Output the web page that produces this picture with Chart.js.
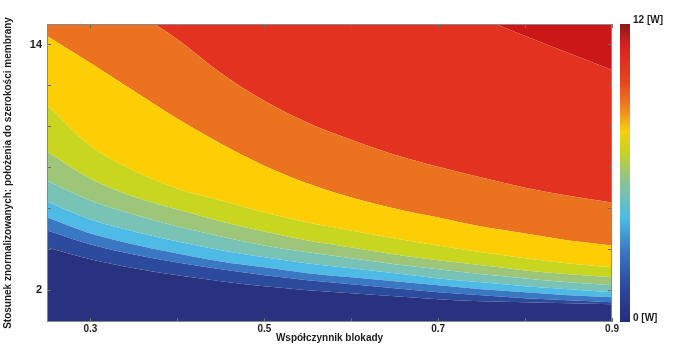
<!DOCTYPE html>
<html>
<head>
<meta charset="utf-8">
<script src="https://cdn.jsdelivr.net/npm/chart.js@4.4.0/dist/chart.umd.min.js"></script>
<style>
  html, body { margin: 0; padding: 0; background: #fff; }
  #wrap { position: relative; width: 675px; height: 351px; overflow: hidden; }
  #plot { position: absolute; left: 0; top: 0; }
  #bar { position: absolute; left: 610px; top: 0; }
</style>
</head>
<body>
<div id="wrap">
  <canvas id="plot" width="620" height="351"></canvas>
  <canvas id="bar" width="65" height="351"></canvas>
</div>
<script>
// x positions (Współczynnik blokady) where the contour edges were read
const xGrid = [0.25, 0.3, 0.35, 0.4, 0.45, 0.5, 0.55, 0.6, 0.65, 0.7, 0.75, 0.8, 0.85, 0.9];

// upper edge of each coloured band (y value at every xGrid point)
const edgeNavy    = [4.09, 3.51, 3.07, 2.73, 2.44, 2.19, 2.00, 1.85, 1.71, 1.56, 1.46, 1.42, 1.37, 1.32];
const edgeBlue    = [4.92, 4.24, 3.75, 3.36, 3.02, 2.73, 2.49, 2.29, 2.10, 1.90, 1.76, 1.61, 1.51, 1.42];
const edgeMidBlue = [5.55, 4.77, 4.24, 3.80, 3.41, 3.12, 2.83, 2.63, 2.44, 2.24, 2.05, 1.90, 1.76, 1.66];
const edgeCyan    = [6.33, 5.45, 4.87, 4.38, 3.95, 3.61, 3.31, 3.07, 2.83, 2.58, 2.39, 2.19, 2.05, 1.90];
const edgeTeal    = [7.35, 6.38, 5.70, 5.11, 4.63, 4.19, 3.85, 3.56, 3.27, 3.02, 2.78, 2.58, 2.39, 2.24];
const edgeGreen   = [8.76, 7.45, 6.57, 5.94, 5.36, 4.87, 4.43, 4.09, 3.75, 3.46, 3.22, 2.97, 2.78, 2.63];
const edgeLime    = [11.05, 9.06, 7.84, 6.96, 6.38, 5.80, 5.31, 4.92, 4.53, 4.19, 3.85, 3.56, 3.31, 3.12];
const edgeYellow  = [14.41, 13.09, 11.73, 10.37, 9.15, 8.08, 7.21, 6.53, 5.99, 5.55, 5.11, 4.77, 4.43, 4.19];
const edgeOrange  = [18.55, 17.09, 15.63, 14.26, 12.61, 11.25, 10.18, 9.35, 8.62, 8.03, 7.50, 7.01, 6.62, 6.28];
const edgeRed     = [27.0, 25.5, 24.0, 22.7, 21.4, 20.2, 19.1, 18.1, 17.1, 16.1, 15.28, 14.41, 13.58, 12.75];

const xTicks = [0.3, 0.4, 0.5, 0.6, 0.7, 0.8, 0.9];
const xLabels = [0.3, 0.5, 0.7, 0.9];
const yTicks = [2, 4, 6, 8, 10, 12, 14];
const yLabels = [2, 14];
const barTicks = [0, 12];

const bands = [
  {edge: edgeNavy,    color: '#29327f', fill: 'start'},
  {edge: edgeBlue,    color: '#2c4b9d', fill: '-1'},
  {edge: edgeMidBlue, color: '#3b78c3', fill: '-1'},
  {edge: edgeCyan,    color: '#4dbbe6', fill: '-1'},
  {edge: edgeTeal,    color: '#78c3b6', fill: '-1'},
  {edge: edgeGreen,   color: '#9ec679', fill: '-1'},
  {edge: edgeLime,    color: '#c9d61f', fill: '-1'},
  {edge: edgeYellow,  color: '#fece05', fill: '-1'},
  {edge: edgeOrange,  color: '#eb721f', fill: '-1'},
  {edge: edgeRed,     color: '#e3321f', fill: '-1'},
  {edge: edgeRed,     color: '#cb1717', fill: 'end'}
];

Chart.defaults.font.family = '"Liberation Sans", Arial, sans-serif';
Chart.defaults.font.weight = 'bold';
Chart.defaults.font.size = 10;
Chart.defaults.color = '#1d1d1d';

// box round the plot and small inward ticks, matlab style
const frame = {
  id: 'frame',
  afterDraw(chart) {
    const {ctx, chartArea: a, scales} = chart;
    ctx.save();
    ctx.strokeStyle = '#6b6b6b';
    ctx.lineWidth = 1;
    ctx.beginPath();
    scales.x.ticks.forEach(t => {
      const px = Math.round(scales.x.getPixelForValue(t.value)) + 0.5;
      ctx.moveTo(px, a.bottom); ctx.lineTo(px, a.bottom - 4);
      ctx.moveTo(px, a.top); ctx.lineTo(px, a.top + 4);
    });
    scales.y.ticks.forEach(t => {
      const py = Math.round(scales.y.getPixelForValue(t.value)) + 0.5;
      ctx.moveTo(a.left, py); ctx.lineTo(a.left + 4, py);
      ctx.moveTo(a.right, py); ctx.lineTo(a.right - 4, py);
    });
    ctx.stroke();
    ctx.strokeStyle = '#8a8a8a';
    ctx.strokeRect(a.left + 0.5, a.top + 0.5, a.right - a.left - 1, a.bottom - a.top - 1);
    ctx.restore();
  }
};

new Chart(document.getElementById('plot'), {
  type: 'line',
  data: {
    datasets: bands.map((b, i) => ({
      label: 'band' + i,
      data: xGrid.map((x, j) => ({x: x, y: b.edge[j]})),
      backgroundColor: b.color,
      borderColor: b.color,
      borderWidth: 0,
      pointRadius: 0,
      cubicInterpolationMode: 'monotone',
      fill: b.fill
    }))
  },
  options: {
    responsive: false,
    animation: false,
    layout: {padding: {left: 0, top: 24, right: 0, bottom: 0}},
    plugins: {legend: {display: false}, tooltip: {enabled: false}},
    scales: {
      x: {
        type: 'linear', min: 0.25, max: 0.9,
        afterBuildTicks: s => { s.ticks = xTicks.map(v => ({value: v})); },
        afterFit: s => { s.height = 29; },
        grid: {display: false, drawTicks: false},
        border: {display: false},
        ticks: {
          padding: 1,
          autoSkip: false,
          maxRotation: 0,
          callback: v => xLabels.some(l => Math.abs(l - v) < 1e-6) ? v.toFixed(1) : ''
        },
        title: {display: true, text: 'Współczynnik blokady', padding: {top: 0, bottom: 7}, font: {size: 10, weight: 'bold'}}
      },
      y: {
        type: 'linear', min: 0.45, max: 15,
        afterBuildTicks: s => { s.ticks = yTicks.map(v => ({value: v})); },
        afterFit: s => { s.width = 47; },
        grid: {display: false, drawTicks: false},
        border: {display: false},
        ticks: {
          padding: 5,
          autoSkip: false,
          font: {size: 11, weight: 'bold'},
          callback: v => yLabels.includes(v) ? String(v) : ''
        },
        title: {display: true, text: 'Stosunek znormalizowanych: położenia do szerokości membrany', padding: {top: 2, bottom: 0}, font: {size: 10, weight: 'bold'}}
      }
    }
  },
  plugins: [frame]
});

// colour scale bar
new Chart(document.getElementById('bar'), {
  type: 'bar',
  data: {
    labels: [''],
    datasets: [{
      data: [12],
      borderWidth: 0,
      barPercentage: 1,
      categoryPercentage: 1,
      backgroundColor: ctx => {
        const {ctx: c, chartArea} = ctx.chart;
        if (!chartArea) return '#888';
        const g = c.createLinearGradient(0, chartArea.bottom, 0, chartArea.top);
        g.addColorStop(0.00, '#262c7c');
        g.addColorStop(0.12, '#2c4aa0');
        g.addColorStop(0.23, '#3a74c0');
        g.addColorStop(0.35, '#4cbce6');
        g.addColorStop(0.475, '#8cc490');
        g.addColorStop(0.575, '#c8d41e');
        g.addColorStop(0.64, '#f5d010');
        g.addColorStop(0.71, '#f08a1c');
        g.addColorStop(0.80, '#e8481e');
        g.addColorStop(0.93, '#d81e1e');
        g.addColorStop(1.00, '#8b1a1a');
        return g;
      }
    }]
  },
  options: {
    responsive: false,
    animation: false,
    layout: {padding: {left: 10, top: 24, right: 0, bottom: 29}},
    plugins: {legend: {display: false}, tooltip: {enabled: false}},
    scales: {
      x: {display: false},
      y: {
        position: 'right', min: 0, max: 12,
        afterBuildTicks: s => { s.ticks = barTicks.map(v => ({value: v})); },
        afterFit: s => { s.width = 45; },
        grid: {display: false, drawTicks: false},
        border: {display: false},
        ticks: {padding: 3, labelOffset: -4, font: {size: 10, weight: 'bold'}, callback: v => v + ' [W]'}
      }
    }
  }
});
</script>
</body>
</html>
